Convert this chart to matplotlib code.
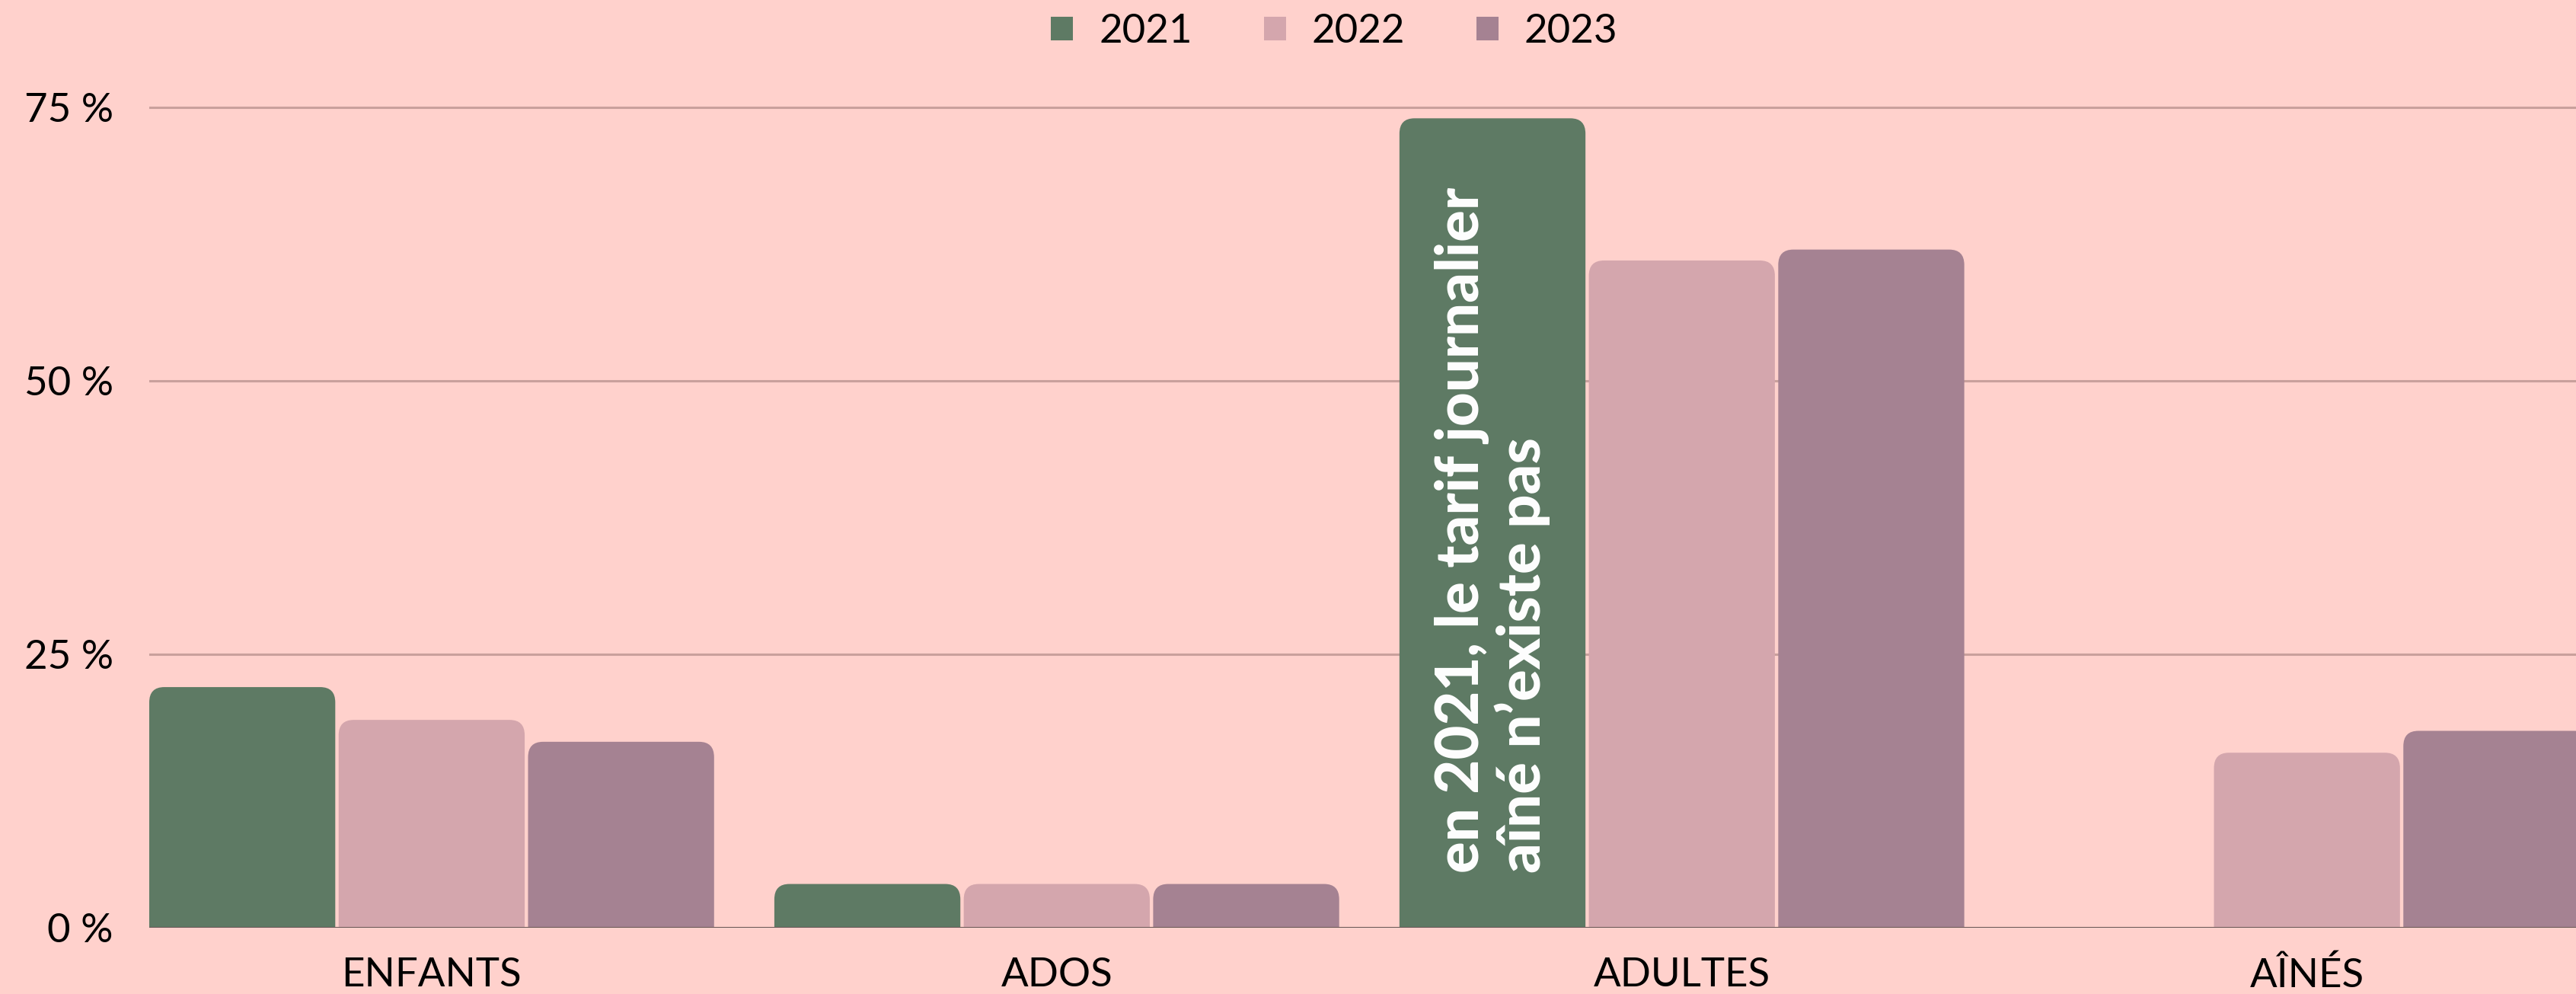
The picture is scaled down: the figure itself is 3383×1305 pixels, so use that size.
import matplotlib
matplotlib.use("Agg")
import matplotlib.pyplot as plt
import numpy as np
from matplotlib.patches import FancyBboxPatch, Patch

categories = ["ENFANTS", "ADOS", "ADULTES", "AÎNÉS"]
years = ["2021", "2022", "2023"]
v2021 = [22, 4, 74, 0]
v2022 = [19, 4, 61, 16]
v2023 = [17, 4, 62, 18]
yticks = [0, 25, 50, 75]
ytick_labels = ["0 %", "25 %", "50 %", "75 %"]
note_text = "en 2021, le tarif journalier\naîné n’existe pas"

colors = ["#5E7A64", "#D4A6AD", "#A58292"]
bg = "#FFD1CC"
grid_c = "#C9A09C"
base_c = "#6B5A58"

plt.rcParams['font.family'] = ['Lato', 'DejaVu Sans']

W, H = 3383, 1305
fig = plt.figure(figsize=(W / 100, H / 100), dpi=100, facecolor=bg)
ax = fig.add_axes([196 / W, 1 - 1218 / H, 1 - 196 / W, (1218 - 126.6) / H])
ax.set_facecolor(bg)

x = np.arange(len(categories))
step = 0.303
width = 0.2976
series = [v2021, v2022, v2023]
rx = 0.024
ry = 1.4
for i, (vals, c) in enumerate(zip(series, colors)):
    bars = ax.bar(x + (i - 1) * step, vals, width, color=c, zorder=3)
    for r in bars:
        r.set_visible(False)
        h = r.get_height()
        if h <= 0:
            continue
        p = FancyBboxPatch((r.get_x(), -2 * ry), r.get_width(), h + 2 * ry,
                           boxstyle=f"round,pad=0,rounding_size={rx}",
                           mutation_aspect=ry / rx, facecolor=c,
                           edgecolor="none", zorder=3)
        ax.add_patch(p)

ax.set_xlim(x[0] - step - width / 2, (3383 - 567.5) / 820.75)
ax.set_ylim(0, 76)
ax.set_yticks(yticks)
ax.set_yticklabels(ytick_labels)
ax.set_xticks(x)
ax.set_xticklabels(categories)
ax.tick_params(axis='both', length=0, labelsize=38, colors="black")
ax.tick_params(axis='y', pad=34)
ax.tick_params(axis='x', pad=28)
for s in ax.spines.values():
    s.set_visible(False)
ax.yaxis.grid(True, color=grid_c, linewidth=2.2, zorder=1)
ax.set_axisbelow(True)
ax.axhline(0, color=base_c, linewidth=2.2, zorder=4)

ax.text(x[2] - step, 5.0, note_text, rotation=90, ha='center', va='bottom',
        multialignment='left', color='white', fontsize=56, fontweight='black',
        linespacing=1.1, zorder=5)

handles = [Patch(facecolor=c, edgecolor='none') for c in colors]
leg = fig.legend(handles, years, loc='center', bbox_to_anchor=(0.518, 0.968),
                 ncol=3, frameon=False, handlelength=0.55,
                 handleheight=0.55, handletextpad=0.64, columnspacing=1.78,
                 prop={'size': 38})

fig.savefig("out.png", dpi=100, facecolor=bg)
